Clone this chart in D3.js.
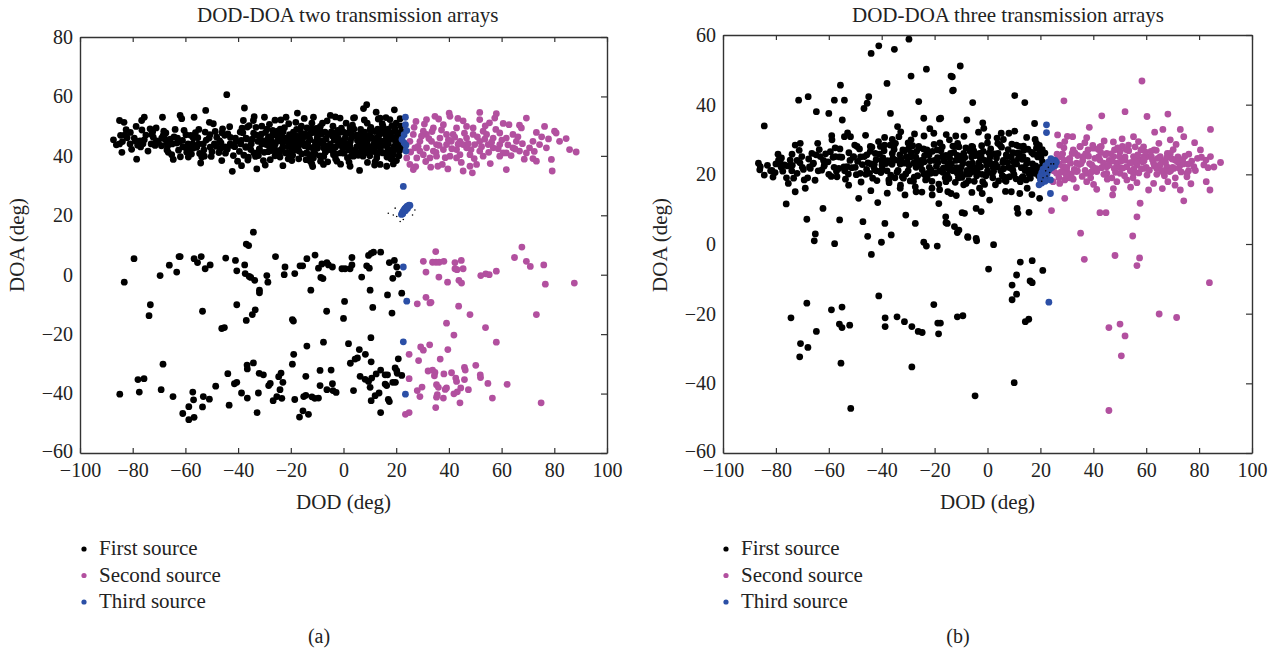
<!DOCTYPE html>
<html>
<head>
<meta charset="utf-8">
<script src="https://cdn.jsdelivr.net/npm/d3@7"></script>
<style>
body { margin: 0; background: #fff; }
text { font-family: "Liberation Serif", "DejaVu Serif", serif; fill: #222; }
</style>
</head>
<body>
<div id="chart"></div>
<script>
// tick labels
const xTickValues = [-100, -80, -60, -40, -20, 0, 20, 40, 60, 80, 100];
const yTicksA = [-60, -40, -20, 0, 20, 40, 60, 80];
const yTicksB = [-60, -40, -20, 0, 20, 40, 60];

const sourceNames = ["First source", "Second source", "Third source"];
const sourceColors = ["#000000", "#b2509f", "#2b4fa6"];

// ---- panel (a): [DOD, DOA] ----
const firstA = [
  // upper band
  [-87.3,45.4],[-85,51.9],[-84.6,46.9],[-84.1,41.2],[-83.3,51.3],[-82.5,48.8],[-79.4,46],[-78.7,49.9],[-78.5,38.9],[-77.2,45],
  [-76.6,51.9],[-75.6,45.4],[-75.6,53],[-72.8,47.2],[-72.2,46.3],[-71.9,44],[-71.5,43.5],[-71.1,49.4],[-68.7,53],[-68.4,46.9],
  [-67.8,45.7],[-67.1,44.3],[-66.5,41.2],[-65.2,40.4],[-64.6,38.8],[-63.3,44.3],[-62,53.6],[-61.4,52.5],[-61.1,45.2],[-60.1,42.9],
  [-59.5,41.2],[-58.9,39.6],[-58,46.9],[-57.2,44],[-56.7,53],[-55.7,42.9],[-54.2,37.6],[-53.8,39.6],[-53.2,44],[-52.3,55.3],
  [-52.5,48],[-50.9,51.3],[-50.6,42.9],[-49.4,50.8],[-48.1,46.3],[-46.8,42.4],[-46.2,38.4],[-45.9,49.1],[-44.3,60.6],[-43.9,47.4],
  [-42.4,43.5],[-42.2,34.8],[-41.8,40.1],[-39.2,48],[-38.7,36.7],[-38,51.9],[-37.6,56.1],[-37.1,42.9],[-36.7,45.7],[-36.5,49.7],
  [-36.1,39.6],[-34.2,51.9],[-32.9,35.6],[-32.3,40.1],[-31,44],[-30.4,38.4],[-30,53],[-28.5,46.3],[-27.2,41.8],[-25.9,44],
  [-24.1,39.6],[-23.5,47.4],[-23,36.7],[-21.8,53],[-21.3,41.2],[-20.3,46.3],[-19.6,38.4],[-19,43.5],[-17.5,54.4],[-16.5,45.2],
  [-15.8,40.7],[-14.6,47.4],[-13.3,42.9],[-12,37.3],[-11.4,53],[-10.8,40.7],
  [8.8,57.2],[7.6,55.9],[12.4,54.7],[19.3,55.5],[6.1,35.1],[-5,53.6],[-1.3,52.7],[3.8,52.7],[13.9,52.7],[17.6,52.2],
  [21.5,52.5],[2.5,49.4],[10.1,48.8],[15.8,48.3],[-8.8,49.9],[-13.2,47.2],[-3.8,47.2],[6.3,46.6],[12.6,46],[20.2,44.9],
  [-15.1,43.8],[-7.6,42.7],[0,43.8],[8.8,42.7],[16.4,43.8],[21.5,42.7],[-11.4,39.3],[-3.8,40.4],[3.8,39.9],[12.6,39.3],
  [18.9,40.4],[-7.6,37.1],[-2.5,38.2],[13.9,37.1],[16.4,36.5],[2.5,36.5],[-12.6,38.2],
  [-35,44],[-33,47],[-32,42],[-30,45],[-29,49],[-28,43],[-27,47],[-26,40],[-25,45],[-24,49],[-23,43],[-22,46],[-21,39],
  [-20,44],[-19,48],[-18,42],[-17,45],[-16,50],[-15,44],[-14,41],[-13,46],[-12,49],[-11,43],[-10,46],[-9,40],[-8,45],
  [-7,48],[-6,42],[-5,44],[-4,50],[-3,43],[-2,46],[-1,41],[0,48],[1,44],[2,42],[3,46],[4,49],[5,43],[6,41],[7,45],[8,48],
  [9,44],[10,40],[11,46],[12,43],[13,49],[14,45],[15,41],[16,47],[17,44],[18,42],[19,46],[20,48],[21,43],[22,45],
  [-34,41],[-31,50],[-26,52],[-22,41],[-17,39],[-12,51],[-8,51],[-3,39],[1,51],[5,47],[9,51],[12,38],[15,50],[18,39],
  [20,51],[-6,38],[-1,45],[3,40],[7,42],[10,47],[14,42],[17,49],[21,40],[-37,46],[-39,44],[-41,46],[-43,44],[-45,43],
  [-47,45],[-49,44],[-51,46],[-53,42],[-55,44],[-57,46],[-59,44],[-61,43],[-63,46],[-65,44],[-67,42],[-69,46],[-71,45],
  [-73,44],[-75,47],[-77,43],[-79,45],[-81,44],[-83,47],[-85,44],
  [-39.5,41.5],[-38.2,47.8],[-37,43.1],[-35.8,50.2],[-34.6,45.6],[-33.4,39.8],[-32.5,44.9],[-31.2,47.3],[-30.1,41.2],[-29.3,43.8],
  [-28.1,50.6],[-27.4,45.1],[-26.2,42.7],[-25.1,48.3],[-24.3,40.9],[-23.2,44.6],[-22.4,49.5],[-21.1,43.2],[-20.5,47.1],[-19.3,40.2],
  [-18.6,45.8],[-17.2,43.1],[-16.4,48.7],[-15.3,46.2],[-14.2,38.7],[-13.6,44.3],[-12.4,47.6],[-11.2,41.8],[-10.3,49.2],[-9.4,44.1],
  [-8.3,47.3],[-7.5,39.8],[-6.6,45.7],[-5.4,42.2],[-4.6,48.1],[-3.5,45.3],[-2.7,40.7],[-1.5,47.9],[-0.4,42.9],[0.7,46.1],
  [1.5,39.4],[2.6,44.8],[3.4,50.3],[4.5,41.6],[5.3,45.2],[6.5,48.9],[7.4,39.9],[8.2,46.4],[9.5,42.1],[10.4,49.6],
  [11.6,44.2],[12.3,41.1],[13.5,46.9],[14.7,50.8],[15.4,43.5],[16.5,39.6],[17.3,46.1],[18.4,50.2],[19.2,43.1],[20.6,46.7],
  [21.3,41.8],[22.1,48.2],[-36.3,38.6],[-29.7,36.9],[-23.8,52.1],[-18.1,51.3],[-11.7,36.4],[-6.2,51.8],[-1.1,37.2],[4.2,52.9],
  [9.1,37.8],[13.2,52.4],[18.9,37.3],[21.7,50.1],[-33.9,53.2],[-27.8,38.7],[-20.8,50.8],[-14.9,52.6],[-8.7,38.2],[-3.1,53.1],
  [2.1,37.9],[7.9,52.1],[11.8,36.9],[16.1,52.9],[20.1,38.4],[-38.8,45.2],[-34.1,47.6],[-31.9,42.3],[-26.7,44.4],[-22.8,45.9],
  [-19.7,42.4],[-15.8,44.9],[-12.9,40.4],[-9.8,46.8],[-7.1,43.5],[-4.1,46.6],[-1.9,43.9],[0.2,40.9],[3.1,47.4],[5.9,43.7],
  [8.7,45.3],[11.1,41.7],[14.1,47.6],[16.9,42.2],[19.8,44.6],[21.1,45.9],[-25.6,46.9],[-17.9,46.7],[-10.7,44.6],[-2.2,48.6],
  [6.2,47.1],[12.7,44.9],[18.1,47.8],[-86.2,43.7],[-82.1,46.1],[-80.4,42.2],[-76.5,48.7],[-74.2,41.6],[-70.3,44.6],[-68.2,48.3],
  [-66.8,43.2],[-64.3,46.4],[-62.6,41.9],[-60.5,48.6],[-58.4,42.3],[-56.2,47.8],[-54.6,40.8],[-52.1,45.3],[-50.2,39.8],[-48.7,48.2],
  [-46.5,44.4],[-44.8,40.9],[-43.2,49.8],[-41.3,43.1],[-40.2,38.2],[-49.9,41.4],[-55.3,46.1],[-61.9,39.7],[-67.4,47.7],[-73.4,49.1],
  [-78.1,43.6],[-63.9,48.9],[-57.7,40.6],[-47.3,41.1],[-45.1,46.9],
  [-29.6,47.9],[-28.6,41.4],[-27.9,44.9],[-26.9,48.6],[-25.8,41.7],[-24.7,46.4],[-23.7,42.1],[-22.9,48.1],[-21.6,45.1],[-20.9,40.8],
  [-19.9,46.1],[-18.9,44.2],[-17.8,48.9],[-16.9,41.6],[-16.1,46.9],[-14.8,43.4],[-13.9,49.4],[-12.7,45.4],[-11.9,42.8],[-10.9,47.9],
  [-9.9,42.6],[-8.9,48.6],[-7.9,44.8],[-6.9,41.2],[-5.9,47.2],[-4.9,43.1],[-3.9,41.4],[-2.9,47.6],[-1.8,44.4],[-0.8,49.3],
  [0.4,43.1],[1.3,47.6],[2.4,43.4],[3.6,41.8],[4.8,46.7],[5.6,40.2],[6.8,43.4],[7.7,47.6],[8.9,41.1],[9.8,45.8],
  [10.8,43.1],[11.9,48.2],[12.9,40.6],[13.8,43.7],[14.9,48.6],[15.9,45.3],[16.8,40.8],[17.8,45.6],[18.8,41.4],[19.6,49.1],
  [20.4,42.1],[21.4,47.2],[22.3,43.6],[-31.5,45.6],[-33.2,49.6],[-35.2,42.1],[-37.8,40.2],[-38.5,49.3],[-40.8,44.9],[-42.9,46.2],
  [-44.1,42.2],[-46.1,47.8],[-48.3,43.2],[-50.7,47.1],[-52.8,39.9],[-54.9,48.9],[-57.1,42.6],[-59.8,47.1],[-62.2,44.8],[-65.7,45.6],
  [-69.1,43.4],[-72.4,48.1],[-76.1,44.1],[-80.9,47.9],[-83.9,44.8],
  // middle row
  [-83.2,-2.5],[-79.5,5.4],[-69.6,-0.3],[-73.3,-10.1],[-73.8,-13.8],[-66.1,3.2],[-63.3,0.9],[-62.4,6.1],[-62,6.1],[-56.7,5.4],
  [-55.4,4.1],[-54,6.1],[-52.5,2.0],[-50.6,3.3],[-53.5,-12.3],[-44.7,5.6],[-41,4.8],[-40.5,1.3],[-40.5,-10.1],[-37.5,3.3],
  [-37.3,0.4],[-36.9,10.3],[-36,9.8],[-35.8,-0.6],[-35.2,-0.9],[-34.2,14.3],[-33.7,-1.9],[-33.5,-11.8],[-34.6,-13.4],[-36.9,-15.4],
  [-46.2,-18.1],[-45.2,-17.8],[-31.9,-5.2],[-31.9,-6.1],[-29.1,-0.3],[-28.7,-2.5],[-25.8,6.1],[-22.5,0],[-22.2,2.6],[-19.4,-15.1],
  [-19,-15.6],[-18.5,0.4],[-16.5,3],[-15.5,3],[-13.9,5.4],[-12.4,-5.2],[-10.8,6.6],[-9.5,2.2],
  [-8.6,-0.9],[-8.2,3.6],[-7.8,-1.3],[-6.3,4.1],[-5.7,3.3],[-4.2,2.6],[-6.4,-12.3],[-0.6,2],[0.6,2],[2.5,2],[3.2,5.8],[3.2,3.3],
  [0.4,-9],[0,-14.7],[6.9,-0.8],[8.8,3],[9.8,2.2],[9.5,6.5],[10.5,7.2],[11.4,7.6],[14.1,7.6],[10.1,-5.2],[11.1,-11],[16.7,-6.8],
  [17.4,4.1],[19.3,4.8],[20.2,2.6],[18.7,-1.2],[20.8,0.2],[22.1,-6.2],[18.4,-12.9],
  // lower row
  [-84.9,-40.2],[-78,-35.3],[-75.7,-35],[-77.5,-39.5],[-68.5,-30.1],[-69.2,-38.7],[-64.7,-41],[-61,-46.7],[-58.7,-44.4],[-58.7,-48.8],
  [-57.2,-39.5],[-56.9,-42.1],[-56.7,-48],[-53.5,-44.5],[-53.2,-41],[-50.9,-41.9],[-48.5,-37.5],[-43.9,-33.3],[-43.4,-43.9],[-41.4,-36.7],
  [-40.5,-36.2],[-38.7,-39.8],[-36.6,-30.4],[-36.5,-31.7],[-36.5,-41.5],[-34.2,-29.7],[-32.3,-39.8],[-32.8,-46.4],[-32,-33.2],[-30.4,-33.7],
  [-28.4,-37.3],[-27.8,-36.6],[-26.7,-42.4],[-25.3,-41],[-24.6,-34.3],[-23.7,-33.1],[-23.4,-41.6],[-23,-36.2],[-24.1,-38.7],[-19.4,-30.1],
  [-18.9,-26.8],[-18.5,-42],[-16.7,-47.9],[-15.4,-45.8],[-14.3,-34.2],[-13.9,-24],[-15.1,-41],[-14.3,-40.6],[-13.3,-47],[-12,-41.1],
  [-10.9,-41.6],[-9.5,-41.5],[-8.9,-32.2],[-8.9,-37.3],
  [-7.6,-22.7],[1.9,-23.2],[6,-25.2],[8.3,-26.8],[10.4,-21.2],[4.4,-28.4],[5.3,-28],[2.6,-29.8],[10.5,-29.3],[20.8,-28.3],
  [-4.7,-32.1],[6.3,-34.2],[8.2,-35.2],[9.5,-35.9],[10.7,-34.8],[12.4,-33.4],[14.1,-32.1],[15.8,-33.7],[16.7,-33.7],[19.6,-31.4],
  [20.2,-32.3],[20.4,-33.2],[22.1,-33.9],[-6.3,-38.7],[-4.2,-36.7],[-4,-39],[-2.8,-39.6],[3.8,-39],[10.1,-37.9],[12,-40.7],
  [13.5,-39.8],[15.8,-36.8],[16.4,-37.3],[17,-42],[17.4,-42.7],[18.7,-36.2],[19.7,-36.2],[10.5,-42.4],[14.1,-46.4]
];

const secondA = [
  [27.5,51.6],[31.5,52.2],[34.7,53.3],[40.1,54.4],[40.4,53.3],[45.4,51.8],[51.7,54.6],[58,54.2],[57.4,52.7],[51.7,52.2],
  [55.4,51.1],[62.8,50.5],[69.4,52.7],[66.8,50.3],[67.5,49.4],[73.2,47.9],[76.3,49.9],[80.1,48.3],[80.7,47.7],[84.5,45.8],
  [88.3,41.3],[85.8,42.1],[82,44.9],[78.9,38.8],[79.2,34.9],[73.2,38.2],[71.9,39.1],[69.4,41],[66.8,41.6],[64.3,42.7],
  [61.8,41],[60.6,41],[61.8,35.4],[59.3,43.8],[56.8,42.7],[53,39.9],[50.5,37.1],[48,36.5],[45.4,34.9],[42.9,39.3],
  [40.4,39.9],[37.5,37.1],[35.8,36.5],[32.8,39.3],[30.3,40.4],[26.5,35.4],[25.2,37.1],[24,39.3],[27.1,42.7],[29,44.9],
  [31.5,47.2],[34.1,49.4],[36.6,46],[39.1,43.8],[41.6,47.2],[44.2,44.9],[46.7,42.7],[49.2,47.2],[51.7,44.9],[54.3,47.2],
  [56.8,46],[59.3,47.7],[49.2,49.4],[42.9,49.4],[37.9,50.5],[25.2,44.9],[26.5,47.2],[29,41.6],[34.1,41.6],[37.9,42.1],
  [42.9,42.1],[48,40.4],[51.7,41.6],[54.9,43.8],[61.8,46],[64.3,47.2],[71.9,44.9],[74.4,43.8],[77,42.7],[70.6,42.7],
  [44.2,40.4],[46.7,46],[39.1,47.2],[35.3,43.8],[31.5,42.7],[27.8,39.3],[35.3,39.9],[30.3,48.3],[33.4,44.9],[40.9,44.9],
  [45.4,43.8],[49.8,43.8],[53,48.3],[59.3,39.9],[65.6,44.9],[46.7,49.9],
  [25.5,41.3],[26.8,49.6],[28.3,43.2],[29.6,46.6],[31.2,38.1],[32.4,45.8],[33.6,48.2],[35.1,41.2],[36.3,43.5],[37.2,48.7],
  [38.6,39.4],[39.8,45.4],[41.1,42.4],[42.2,46.3],[43.5,43.9],[44.7,37.8],[45.9,47.6],[47.3,44.1],[48.4,42.1],[49.6,39.1],
  [50.8,46.4],[52.4,43.1],[53.6,45.6],[55.1,41.2],[56.2,44.6],[57.8,48.9],[58.7,42.4],[60.1,45.3],[62.4,43.7],[63.6,40.1],
  [65.1,42.3],[66.2,46.4],[67.9,44.1],[68.6,38.9],[72.4,41.5],[75.2,46.4],[77.8,45.7],[27.4,36.4],[33.1,36.2],[39.6,35.6],
  [48.9,34.3],[55.7,37.4],[30.7,50.7],[36.1,52.4],[43.4,52.6],[53.8,50.1],[60.6,50.9],
  [35,7.8],[30.3,4.5],[31.3,0.9],[33.8,4.2],[35.1,4.2],[36.3,4.2],[38.1,4.5],[36.2,-0.8],[39.5,-2.5],[42.3,4.1],
  [42.3,2],[43.1,1.7],[44.7,4.8],[45.4,2],[43.8,-1.9],[44.8,-2.8],[52.1,-0.3],[54,0.3],[55.3,0],[58,1.2],
  [64.9,5.8],[67.7,9.3],[69.4,4.5],[70.9,2.8],[76,3.3],[76.6,-3.2],[87.6,-2.8],[28,-9.8],[31.3,-7.6],[32.8,-9.5],
  [33.2,-9.3],[43.7,-10.6],[48,-13.4],[73.2,-13.4],[39.1,-16.3],[53.9,-17.8],[41.9,-20.3],[58,-22.7],[29.3,-24.3],[30.3,-25.4],
  [32.7,-23.6],[39.6,-25.2],[24.9,-26.8],[28.5,-28.9],[36.7,-28.4],[32.1,-32.4],[33.8,-32.1],[34.5,-34],[34.7,-32.9],[38.1,-33.4],
  [41,-33],[42.6,-34.8],[42.9,-35.9],[45.9,-31.2],[46.2,-32.1],[45.9,-35.3],[50.2,-30.5],[51.9,-33.7],[52,-34.6],[54.8,-36.6],
  [62.1,-36.9],[24.9,-35],[29.8,-37.8],[28,-39],[29,-41],[35.3,-37],[36,-37.9],[35.6,-40.4],[35.3,-41.2],[38.6,-38.6],
  [39.1,-38.1],[37.9,-41.5],[41.9,-40.1],[43.2,-39.4],[44.5,-38.1],[47.4,-38.7],[44.2,-43.1],[35,-44.7],[56.5,-41.5],[75,-43.1],
  [23.5,-47],[24.9,-46.4]
];

const thirdA = [
  [23.5,53],[23.5,50.5],[24,48.5],[23,47.1],[22.2,45.5],[23,44.4],[23.7,43.6],[23.7,41.6],[22.7,29.7],
  [22,20.3],[22.3,20.8],[22.6,21.3],[23,21.8],[23.3,22.2],[23.7,22.6],[24.1,23],[24.5,23.2],[24.9,23.4],[22.5,20.5],
  [23.5,21.5],[24.3,22.3],[25.2,23.3],
  [22.7,2.6],[24,-8.9],[22.7,-22.6],[23.5,-40.2]
];

const marksA = [[17,20.7],[19.6,22.4],[27.1,21.8],[21.5,17.9],[20.2,19.6],[26.2,20.1],[22.7,18.6],[18.9,20.1]];

// ---- panel (b): [DOD, DOA] ----
const firstB = [
  [-84.4,33.9],[-86.6,23.2],[-85.9,22.2],[-84.4,19.8],[-81.5,21.1],[-80.3,20.5],[-79,24.1],[-78.4,23.6],[-76.8,22.7],[-76.1,11.5],
  [-75.3,17.4],[-74.6,24.1],[-73.9,25.8],[-72.7,28.4],[-72.7,15],[-72,20.3],[-71.4,41.3],[-70.8,28.9],[-70.2,25.1],[-69.3,18.4],
  [-68.9,16],[-68.3,7.1],[-67.8,42.3],[-67,21.7],[-66.4,26],[-65.8,23.2],[-64.7,38],[-64.2,28.9],[-63.2,25.1],[-62.2,10.2],
  [-61.7,22.7],[-60,37.5],[-59.4,26.5],[-58.8,29.9],[-57.9,41.3],[-57.5,25.1],[-56.9,19.3],[-55.9,6.9],[-55.6,45.6],[-54.9,35.6],
  [-54.1,41.3],[-54.1,30.8],[-53.1,22.2],[-52.5,16.9],[-51.8,30.8],[-50.6,25.1],[-49.3,28],[-48.7,13.1],[-48.1,20.3],[-47.1,6.4],
  [-46.7,38.9],[-45.5,40.4],[-44.9,42.3],[-44.3,28],[-44,54.7],[-43,22.2],[-42.4,26],[-41.5,11.9],[-41.1,56.9],[-40.5,28],
  [-39.9,22.7],[-38.8,5.9],[-38,46.1],[-37.3,18.4],[-36.7,37.5],[-35.4,28],[-35.2,55.9],[-34,33.7],[-33.5,30.8],[-32.9,16.9],
  [-31.6,23.2],[-30.9,8.3],[-29.7,58.8],[-28.9,48.2],[-28.9,29.9],[-27.9,23.2],[-27.3,16.4],[-27.3,5.9],[-26,40.9],[-24.1,36.1],
  [-23.1,50.2],[-22.9,27],[-21.5,20.3],[-20.9,14.1],[-20.3,31.8],[-17.7,36.1],[-18.4,11.6],[-15.8,7.8],[-15.2,5.9],[-13.3,48],
  [-12.9,44.2],[-12,28],[-11.4,20.3],[-10.8,4],
  [-10.3,51.1],[-13.8,48.2],[-13.2,44],[10.3,42.6],[14.1,40.6],[-5.6,40.6],[-18.2,35.9],[-7.8,35.6],[-1.8,34.8],[-1.4,33.2],
  [5.2,31.8],[10.3,32.4],[17.8,34.6],[0.1,30.8],[-14.4,29.9],[-11.3,28.9],[-5.6,27.9],[3.9,28.9],[10.9,28.4],[18.5,28.9],
  [18.5,27.5],[-17,25.1],[-9.4,24.1],[-2.4,25.1],[7.1,25.6],[13.4,25.1],[19.7,26],[-13.2,21.2],[-5.6,20.8],[2,22.2],
  [9.6,21.2],[15.9,21.2],[19.1,21.7],[-15.7,17.9],[-8.1,17.4],[-1.8,17.9],[6.5,18.4],[13.4,19.3],[17.8,20.3],[-13.8,14.5],
  [-2,14.5],[12.2,14.5],[19.7,13.1],[0.8,12.6],[11.2,10.2],[15.7,9.1],[11.5,8.8],[-4.3,10.2],[-2.4,9.3],[-8.7,8.8],
  [-9.6,9],[-12.5,5],[-15.7,6.1],[-7.5,2.1],[-4.3,1.6],
  [-40,24],[-38,21],[-36,26],[-35,19],[-33,23],[-32,27],[-30,21],[-29,25],[-28,18],[-27,22],[-26,28],[-25,24],[-24,20],
  [-23,26],[-22,22],[-21,18],[-20,24],[-19,27],[-18,21],[-17,25],[-16,19],[-15,23],[-14,26],[-13,21],[-12,24],[-11,19],
  [-10,22],[-9,26],[-8,20],[-7,23],[-6,25],[-5,18],[-4,22],[-3,26],[-2,20],[-1,24],[0,21],[1,25],[2,19],[3,23],[4,26],
  [5,21],[6,24],[7,18],[8,22],[9,25],[10,20],[11,23],[12,26],[13,19],[14,22],[15,24],[16,20],[17,23],[18,21],[19,25],
  [20,22],[21,19],[-50,22],[-52,24],[-54,21],[-56,25],[-58,22],[-60,20],[-62,24],[-64,21],[-66,23],[-68,19],[-70,22],
  [-72,24],[-74,21],[-76,19],[-78,22],[-80,23],[-82,21],[-44,23],[-46,20],[-48,25],[-42,21],[-36,30],[-30,29],[-24,31],
  [-18,29],[-12,31],[-6,28],[0,29],[6,30],[12,28],[18,30],[-33,16],[-27,15],[-21,16],[-15,15],[-9,17],[-3,16],[3,17],
  [9,15],[15,16],
  [-60.3,23.6],[-59.1,19.4],[-57.6,27.6],[-56.2,21.7],[-55.1,24.9],[-53.7,18.6],[-52.4,26.2],[-51.3,21.9],[-50.2,28.4],[-49.1,23.7],
  [-47.8,17.8],[-46.6,25.1],[-45.7,21.4],[-44.3,26.6],[-43.4,18.9],[-42.1,24.2],[-41.2,29.4],[-40.3,20.5],[-39.1,26.8],[-38.4,23.1],
  [-37.2,17.6],[-36.1,22.9],[-35.3,27.1],[-34.2,20.6],[-33.1,25.6],[-32.2,19.3],[-31.3,26.8],[-30.4,23.6],[-29.2,18.1],[-28.3,28.2],
  [-27.1,24.9],[-26.4,19.6],[-25.3,22.7],[-24.2,27.3],[-23.4,18.4],[-22.1,25.6],[-21.3,21.2],[-20.2,28.6],[-19.3,22.3],[-18.4,17.2],
  [-17.1,27.9],[-16.4,23.8],[-15.2,19.9],[-14.3,24.6],[-13.1,28.1],[-12.2,17.7],[-11.4,25.4],[-10.2,20.6],[-9.3,23.1],[-8.2,27.6],
  [-7.1,18.2],[-6.3,22.4],[-5.2,26.7],[-4.1,19.6],[-3.3,23.3],[-2.2,28.2],[-1.1,17.1],[-0.3,22.6],[1.2,27.3],[2.3,20.9],
  [3.4,24.7],[4.2,18.1],[5.3,27.8],[6.1,21.6],[7.3,25.2],[8.4,19.3],[9.2,28.7],[10.3,22.9],[11.2,26.1],[12.4,17.9],
  [13.1,24.3],[14.2,21.1],[15.3,27.2],[16.2,18.9],[17.4,25.8],[18.2,22.4],[19.3,19.6],[20.2,24.8],[21.2,21.4],[22.1,18.6],
  [-58.4,24.9],[-54.3,22.1],[-49.6,19.9],[-45.2,23.3],[-39.6,24.8],[-34.7,24.1],[-30.9,20.1],[-26.8,26.6],[-22.7,20.3],[-18.9,24.8],
  [-14.7,21.6],[-10.8,27.9],[-6.8,20.1],[-2.7,24.6],[1.7,22.8],[5.6,19.6],[9.8,23.7],[13.7,26.9],[17.1,20.6],[20.7,27.1],
  [-48.4,27.3],[-42.7,21.3],[-36.8,28.4],[-29.9,27.3],[-23.9,23.6],[-16.9,20.6],[-9.9,25.2],[-4.7,21.1],[0.6,26.1],[7.6,23.4],
  [14.6,18.4],[19.6,28.3],[-86.1,21.3],[-83.2,22.6],[-81.1,19.2],[-79.2,25.8],[-77.4,20.9],[-75.6,22.4],[-73.3,18.9],[-71.2,26.9],
  [-69.6,21.4],[-67.6,24.4],[-65.2,18.3],[-63.6,27.1],[-62.7,21.2],[-61.2,25.9],[-58.9,31.1],[-52.9,31.9],[-46.1,31.2],[-38.9,30.6],
  [-32.8,32.2],[-27.6,31.6],[-21.8,33.1],[-15.6,31.4],[-8.9,30.9],[-3.4,32.1],[3.6,30.4],[8.1,31.8],[14.8,30.6],[-44.1,15.3],
  [-37.9,14.6],[-31.2,14.1],[-24.8,14.9],[-18.1,15.6],[-11.8,13.9],[-5.9,14.8],[6.8,15.1],[16.8,14.2],
  [-45.6,25.6],[-44.6,20.3],[-43.7,27.8],[-42.8,22.9],[-41.8,18.2],[-40.9,25.8],[-39.8,21.6],[-38.9,28.4],[-37.8,23.9],[-36.6,19.8],
  [-35.8,24.6],[-34.8,28.9],[-33.8,21.1],[-32.7,24.3],[-31.8,18.9],[-30.7,25.1],[-29.7,22.6],[-28.8,26.2],[-27.7,19.2],[-26.8,23.6],
  [-25.8,27.6],[-24.7,21.3],[-23.8,25.3],[-22.8,18.9],[-21.7,23.9],[-20.8,26.6],[-19.7,20.4],[-18.7,23.4],[-17.6,26.8],[-16.7,21.8],
  [-15.7,25.4],[-14.6,18.8],[-13.7,22.9],[-12.7,26.3],[-11.7,21.9],[-10.7,24.2],[-9.7,19.1],[-8.6,24.8],[-7.7,21.1],[-6.6,26.6],
  [-5.7,23.2],[-4.6,25.4],[-3.7,20.4],[-2.6,22.1],[-1.6,26.6],[-0.6,19.6],[0.8,23.6],[1.8,20.1],[2.8,25.9],[3.8,22.2],
  [4.7,28.4],[5.8,23.4],[6.7,19.1],[7.8,27.1],[8.8,21.8],[9.6,26.2],[10.8,18.7],[11.7,24.6],[12.8,21.9],[13.6,28.1],
  [14.8,23.1],[15.8,20.1],[16.7,26.3],[17.7,22.1],[18.7,25.6],[19.8,21.1],[20.8,23.6],[21.7,26.1],[-55.8,27.3],[-50.8,24.9],
  [-47.3,22.8],[-61.8,22.3],[-64.8,25.6],[-67.3,22.1],[-70.9,23.3],[-73.8,22.6],[-77.9,24.7],[-52.6,20.1],[-57.1,20.9],
  [-65.1,2.9],[-65.5,0.9],[-57.8,0.1],[-45.3,2.2],[-43.9,-3],[-40.1,0.5],[-36.4,2.6],[-24.1,0.5],[-23.1,-0.6],[-19,-0.6],
  [-11.4,3.3],[-74.3,-21.2],[-68.3,-17],[-70.7,-28.6],[-71,-32.4],[-67.9,-29.7],[-64.7,-25.1],[-59,-18.9],[-56,-23],[-55,-18.1],
  [-55,-24],[-55.4,-34.2],[-52.1,-23.3],[-51.7,-47.2],[-41.1,-14.9],[-38.7,-23.7],[-38.7,-21.2],[-34.2,-20.9],[-31.4,-22.3],[-28.6,-23.7],
  [-28.6,-35.3],[-26.2,-25.1],[-24.7,-25.4],[-20.3,-17.4],[-18.8,-22.7],[-17.8,-22.7],[-18.5,-25.8],[-11.4,-20.9],
  [-7.4,1.9],[-4.1,0.9],[2.3,-0.2],[0.4,-7.2],[12.4,-5.2],[16.9,-4.8],[11,-8.9],[20.9,-7.6],[9.3,-11.8],[16.1,-10.6],
  [16.9,-11.1],[11,-14.4],[9.3,-16],[14.3,-22.3],[15.6,-21.6],[-9.3,-20.6],[10.1,-39.8],[-4.7,-43.6]
];

const secondB = [
  [58.4,46.8],[28.9,41.1],[43.2,36.8],[52,38],[60.3,36.6],[68.2,37.3],[38.5,33.5],[26.5,31.3],[66.3,32.9],[63.2,32.1],
  [72.9,32.9],[74.2,30.8],[84.3,32.9],[32.2,30.8],[37.5,30.5],[47.6,29.3],[55.2,30.8],[53.3,28.4],[69.1,29.9],[59,27.9],
  [27.3,28.4],[29.2,29.4],[32.4,27],[35,27.9],[40,27.5],[42.5,27.9],[45.1,26],[47.6,25.1],[50.1,26.5],[52,24.1],
  [55.2,25.1],[57.7,24.1],[60.3,25.1],[62.8,23.2],[65.3,25.1],[69.1,26],[70.9,24.1],[72.9,22.7],[76.1,25.8],[78,22.2],
  [80.5,27],[81.8,22.7],[84.3,25.1],[88.1,23.4],[26.1,24.1],[28.6,22.2],[31.1,24.6],[33.7,23.2],[36.2,25.1],[39.4,22.7],
  [42.5,24.1],[45.1,22.2],[48.9,23.2],[52.7,22.2],[56.5,22.7],[59.6,21.7],[64,21.7],[67.8,22.2],[26.1,20.3],[29.9,21.2],
  [33.7,20.8],[37.5,20.3],[41.3,20.8],[45.1,20.3],[50.1,20.3],[55.2,20.3],[60.3,19.8],[66.6,20.3],[70.4,21.7],[75.4,20.3],
  [75.4,19.3],[24.8,17.9],[27.3,17.4],[29.2,18.4],[32.4,18.6],[37.5,17.9],[41.3,15.7],[47.6,15.9],[48.9,17.9],[52.7,18.4],
  [56.5,17.6],[60.9,15.5],[62.8,17.4],[68.2,17.9],[70.9,16.9],[72.9,15.5],[82.7,17.9],[84.1,15.5],[29.2,13.1],[47.3,14.1],
  [57.7,11.7],[74.2,12.4],[24.2,9.6],[42.5,9],[44.8,9],[56.5,7.8],[54.9,2.3],[35.2,3.1],
  [28,25],[30,22],[32,26],[34,21],[36,24],[38,27],[40,22],[42,25],[44,20],[46,24],[48,27],[50,22],[52,25],[54,21],
  [56,24],[58,27],[60,22],[62,25],[64,20],[66,24],[68,26],[70,22],[72,25],[74,23],[76,21],[31,19],[35,28],[39,19],
  [43,28],[47,19],[51,28],[55,19],[59,25],[63,27],[67,21],[71,19],[25,21],[27,19],[29,24],
  [24.8,22.4],[26.3,25.8],[27.8,20.6],[28.9,27.6],[30.6,24.2],[31.7,20.1],[33.1,26.1],[34.6,22.8],[35.8,19.4],[37.1,25.9],
  [38.6,23.1],[39.8,28.3],[41.2,21.6],[42.8,26.3],[43.9,23.2],[45.3,18.6],[46.7,25.9],[47.9,21.7],[49.2,27.6],[50.7,23.9],
  [51.8,19.6],[53.4,26.8],[54.6,23.4],[55.8,27.9],[57.2,20.4],[58.6,23.6],[59.8,26.4],[61.2,21.2],[62.4,24.1],[63.8,26.9],
  [65.2,22.7],[66.9,19.6],[67.8,24.8],[69.3,21.1],[70.2,27.1],[71.8,23.6],[73.2,20.7],[74.6,25.2],[77.2,23.8],[79.4,24.6],
  [82.6,24.1],[85.6,22.1],[30.2,30.9],[36.8,29.1],[44.1,29.6],[50.9,30.2],[57.1,29.4],[64.8,28.9],[71.3,28.6],[78.3,29.1],
  [33.6,16.2],[40.1,17.1],[54.1,16.3],[66.1,15.9],[76.9,17.3],
  [25.6,23.4],[27.1,22.9],[28.4,25.9],[29.8,19.8],[31.4,23.2],[32.8,21.4],[34.1,25.4],[35.4,23.1],[36.9,21.1],[38.2,25.2],
  [39.2,20.6],[40.6,24.6],[41.8,27.2],[43.2,21.9],[44.6,25.6],[45.8,22.6],[47.2,23.8],[48.4,20.6],[49.8,25.1],[51.2,21.8],
  [52.4,27.1],[53.8,23.3],[55.4,21.6],[56.8,25.6],[58.2,21.6],[59.2,23.9],[61.8,26.6],[63.1,22.4],[64.4,24.6],[65.8,21.1],
  [67.3,23.4],[68.8,20.8],[69.8,24.4],[72.3,21.8],[73.8,24.2],[75.8,22.9],[78.6,21.1],[80.9,24.9],[83.4,21.9],
  [36.6,-4.4],[48.2,-3.3],[57.5,-4],[56.5,-6.2],[83.9,-11.1],[64.9,-20.1],[71.5,-21.1],[45.9,-24],[50.1,-23],[52,-26.4],
  [50.6,-32.1],[45.9,-47.8]
];

const thirdB = [
  [22.3,34.2],[22.3,32],[19.5,17],[20,18.5],[20.5,19.5],[21,20],[21.5,21],[22,21.5],[22.5,22],[23,22.5],[23.5,23],
  [24,23.5],[24.5,23.5],[25,24],[25.5,24],[21,18.5],[22,20],[23,21],[24,22],[25,22.5],[20.5,17.5],[26,23.5],
  [20.5,20.5],[21.5,19],[22.5,20],[23.5,21.5],[24.5,22],[25.5,22.5],[21,21.5],[22,22.5],[23,23.5],[24,24.5],[20,19.5],[21.8,18],
  [23.8,18.4],[23.8,14.5],[23.2,-16.7]
];

const marksB = [[21,19],[22,21],[23,22],[24,23],[22.5,19.5],[20.5,18],[25,23],[23.5,20.5]];

const svg = d3.select("#chart").append("svg")
    .attr("width", 1280)
    .attr("height", 656);

function drawPanel(p) {
    const x = d3.scaleLinear().domain([-100, 100]).range([p.left, p.right]);
    const y = d3.scaleLinear().domain(p.yDomain).range([453, p.top]);
    const g = svg.append("g");
    const fmt = d => d < 0 ? "\u2212" + Math.abs(d) : String(d);

    p.series.forEach((s, i) => {
        g.append("g").selectAll("circle")
            .data(s)
            .join("circle")
            .attr("cx", d => x(d[0]))
            .attr("cy", d => y(d[1]))
            .attr("r", 3.4)
            .attr("fill", sourceColors[i]);
    });

    g.append("g").selectAll("circle")
        .data(p.marks)
        .join("circle")
        .attr("cx", d => x(d[0]))
        .attr("cy", d => y(d[1]))
        .attr("r", 0.8)
        .attr("fill", "#000");

    const bottom = g.append("g")
        .attr("transform", "translate(0,453)")
        .call(d3.axisBottom(x).tickValues(xTickValues).tickSizeInner(-5).tickSizeOuter(0).tickPadding(10).tickFormat(fmt));
    const topAxis = g.append("g")
        .attr("transform", `translate(0,${p.top})`)
        .call(d3.axisTop(x).tickValues(xTickValues).tickSizeInner(-5).tickSizeOuter(0).tickFormat(""));
    const left = g.append("g")
        .attr("transform", `translate(${p.left},0)`)
        .call(d3.axisLeft(y).tickValues(p.yTicks).tickSize(0).tickPadding(7).tickFormat(fmt));
    const right = g.append("g")
        .attr("transform", `translate(${p.right},0)`)
        .call(d3.axisRight(y).tickValues(p.yTicks).tickSizeInner(-6).tickSizeOuter(0).tickFormat(""));

    [bottom, topAxis, left, right].forEach(a => {
        a.attr("font-family", null).attr("font-size", 20);
        a.select(".domain").attr("stroke", "#333").attr("stroke-width", 1.4);
        a.selectAll(".tick line").attr("stroke", "#333").attr("stroke-width", 1.2);
        a.selectAll(".tick text").attr("fill", "#222");
    });
    // keep the lowest y label clear of the x labels
    left.selectAll(".tick text").filter(d => d === -60).attr("dy", "0.2em");

    g.append("text")
        .attr("x", p.titleX)
        .attr("y", 22)
        .attr("font-size", 21)
        .text(p.title);

    g.append("text")
        .attr("x", (p.left + p.right) / 2)
        .attr("y", 509)
        .attr("text-anchor", "middle")
        .attr("font-size", 21)
        .text("DOD (deg)");

    g.append("text")
        .attr("transform", `translate(${p.left - 56},245) rotate(-90)`)
        .attr("text-anchor", "middle")
        .attr("font-size", 21)
        .text("DOA (deg)");

    const legend = g.append("g").attr("transform", `translate(${p.legendX},0)`);
    sourceNames.forEach((name, i) => {
        legend.append("circle")
            .attr("cx", 0)
            .attr("cy", 549 + i * 26.5)
            .attr("r", 2.6)
            .attr("fill", sourceColors[i]);
        legend.append("text")
            .attr("x", 15)
            .attr("y", 555 + i * 26.5)
            .attr("font-size", 21)
            .text(name);
    });

    g.append("text")
        .attr("x", p.captionX)
        .attr("y", 643)
        .attr("text-anchor", "middle")
        .attr("font-size", 20)
        .text(p.caption);
}

drawPanel({
    left: 80, right: 607, top: 37,
    yDomain: [-60, 80], yTicks: yTicksA,
    title: "DOD-DOA two transmission arrays", titleX: 197,
    series: [firstA, secondA, thirdA], marks: marksA,
    legendX: 84, caption: "(a)", captionX: 319
});

drawPanel({
    left: 723, right: 1252, top: 35,
    yDomain: [-60, 60], yTicks: yTicksB,
    title: "DOD-DOA three transmission arrays", titleX: 852,
    series: [firstB, secondB, thirdB], marks: marksB,
    legendX: 726, caption: "(b)", captionX: 958
});
</script>
</body>
</html>
